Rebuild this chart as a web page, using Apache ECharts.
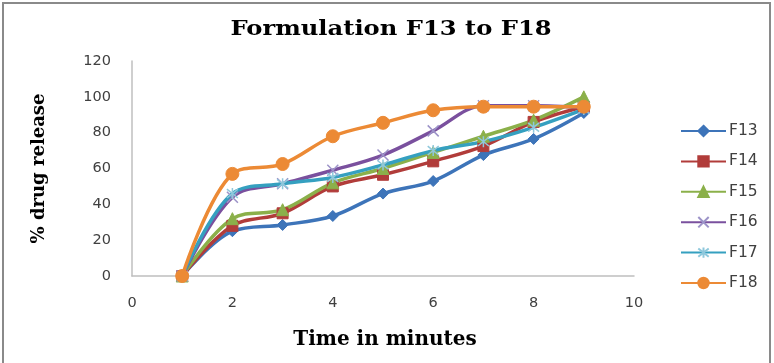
<!DOCTYPE html>
<html>
<head>
<meta charset="utf-8">
<script src="https://cdn.jsdelivr.net/npm/echarts@6/dist/echarts.min.js"></script>
<style>
  html, body { margin: 0; padding: 0; background: #fff; }
  #chart { width: 774px; height: 363px; }
</style>
</head>
<body>
<div id="chart"></div>
<script>
// Sampling times (minutes)
const times = [1, 2, 3, 4, 5, 6, 7, 8, 9];

// Cumulative % drug release for each formulation
const F13 = [0, 25, 28.5, 33.5, 46, 53, 67.5, 76.5, 91];
const F14 = [0, 28, 35, 50, 56.5, 64, 72.5, 86, 94.5];
const F15 = [0, 32, 37, 52, 60, 69, 78, 87, 100];
const F16 = [0, 44, 51.5, 59, 67.5, 81, 95, 95, 94];
const F17 = [0, 46, 51.5, 55, 62, 70, 75, 83, 93];
const F18 = [0, 57, 62.5, 78, 85.5, 92.5, 94.5, 94.5, 94.5];

const xTicks = [0, 2, 4, 6, 8, 10];
const yTicks = [0, 20, 40, 60, 80, 100, 120];

const chartTitle = 'Formulation F13 to F18';
const xTitle = 'Time in minutes';
const yTitle = '% drug release';

const pairs = (ys) => times.map((t, i) => [t, ys[i]]);

const crossPath = 'path://M0,0L10,10M10,0L0,10';
const starPath = 'path://M5,0L5,10M1,1L9,9M9,1L1,9';

const seriesDefs = [
  { name: 'F13', data: F13, color: '#3d74b9', symbol: 'diamond', size: 11 },
  { name: 'F14', data: F14, color: '#b13c3a', symbol: 'rect', size: 11 },
  { name: 'F15', data: F15, color: '#8bb04a', symbol: 'triangle', size: 12 },
  { name: 'F16', data: F16, color: '#7a509e', symbol: crossPath, size: 11, mark: '#9c93c8' },
  { name: 'F17', data: F17, color: '#35a0c0', symbol: starPath, size: 11, mark: '#8fc8dc' },
  { name: 'F18', data: F18, color: '#ec8a35', symbol: 'circle', size: 13 }
];

const chart = echarts.init(document.getElementById('chart'), null, { renderer: 'canvas' });

const labelFont = { fontFamily: 'DejaVu Sans', fontSize: 14.5, color: '#404040' };
const serifBold = 'bold 20px "DejaVu Serif"';

chart.setOption({
  animation: false,
  backgroundColor: '#fff',
  graphic: [
    {
      type: 'rect',
      shape: { x: 3, y: 3, width: 767, height: 380 },
      style: { fill: 'none', stroke: '#8a8a8a', lineWidth: 2 },
      silent: true
    },
    {
      // wide bold chart heading
      type: 'text',
      x: 391, y: 30,
      scaleX: 1.21,
      style: { text: chartTitle, font: serifBold, fill: '#000', textAlign: 'center', textVerticalAlign: 'middle' },
      silent: true
    },
    {
      // horizontal axis caption
      type: 'text',
      x: 385, y: 340,
      scaleX: 1.0,
      style: { text: xTitle, font: serifBold, fill: '#000', textAlign: 'center', textVerticalAlign: 'middle' },
      silent: true
    }
  ],
  grid: { left: 132, right: 140, top: 61, bottom: 87 },
  legend: {
    orient: 'vertical',
    left: 675,
    top: 118,
    itemWidth: 45,
    itemHeight: 13,
    itemGap: 14.4,
    textStyle: { fontFamily: 'DejaVu Sans', fontSize: 15.5, color: '#404040', padding: [0, 0, 0, -2] },
    data: seriesDefs.map(s => s.name)
  },
  xAxis: {
    type: 'value',
    min: xTicks[0],
    max: xTicks[xTicks.length - 1],
    interval: xTicks[1] - xTicks[0],
    axisLine: { lineStyle: { color: '#bfbfbf', width: 1.5 } },
    axisTick: { show: false },
    splitLine: { show: false },
    axisLabel: Object.assign({ margin: 20 }, labelFont)
  },
  yAxis: {
    type: 'value',
    min: yTicks[0],
    max: yTicks[yTicks.length - 1],
    interval: yTicks[1] - yTicks[0],
    name: yTitle,
    nameLocation: 'middle',
    nameRotate: 90,
    nameGap: 84,
    nameTextStyle: { fontFamily: 'DejaVu Serif', fontWeight: 'bold', fontSize: 18, color: '#000' },
    axisLine: { show: true, lineStyle: { color: '#bfbfbf', width: 1.5 } },
    axisTick: { show: false },
    splitLine: { show: false },
    axisLabel: Object.assign({ margin: 21 }, labelFont)
  },
  series: seriesDefs.map(s => ({
    name: s.name,
    type: 'line',
    smooth: 0.35,
    data: pairs(s.data),
    symbol: s.symbol,
    symbolSize: s.size,
    showAllSymbol: true,
    lineStyle: { color: s.color, width: 3.5 },
    itemStyle: s.mark
      ? { color: s.mark, borderColor: s.mark, borderWidth: 1.5 }
      : { color: s.color, borderColor: s.color, borderWidth: 1 }
  }))
});
</script>
</body>
</html>
